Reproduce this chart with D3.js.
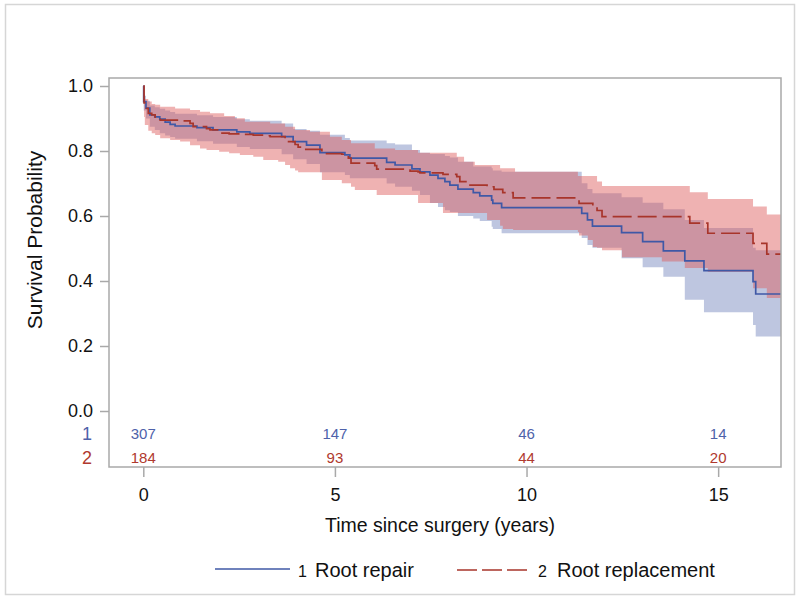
<!DOCTYPE html>
<html>
<head>
<meta charset="utf-8">
<script src="https://cdn.jsdelivr.net/npm/d3@7"></script>
<style>
  html, body { margin: 0; padding: 0; background: #fff; }
  svg { display: block; font-family: Arial, "Liberation Sans", Helvetica, sans-serif; }
</style>
</head>
<body>
<svg id="chart" width="800" height="600"></svg>
<script>
// ---------------- DATA ----------------
const groupLabels = ["Root repair", "Root replacement"];
const groupIds = ["1", "2"];
const xTickValues = [0, 5, 10, 15];
const yTickValues = [0, 0.2, 0.4, 0.6, 0.8, 1.0];
const atRiskTimes = [0, 5, 10, 15];
const atRiskRepair = [307, 147, 46, 14];
const atRiskReplacement = [184, 93, 44, 20];
const endTime = 16.64;

// Group 1: Root repair (time, survival, lower CL, upper CL)
const repairTime  = [0, 0.01, 0.07, 0.17, 0.30, 0.43, 0.57, 0.70, 0.83, 1.40, 1.82, 2.44, 2.78, 3.61, 3.91, 4.26, 4.61, 5.26, 5.39, 6.35, 6.57, 7.01, 7.22, 7.48, 7.69, 7.87, 8.00, 8.21, 8.61, 8.78, 9.09, 9.12, 9.35, 11.44, 11.59, 11.72, 12.48, 13.03, 13.57, 14.13, 14.63, 15.91, 15.98];
const repairSurv  = [1.0, 0.952, 0.932, 0.911, 0.905, 0.898, 0.889, 0.882, 0.877, 0.872, 0.865, 0.859, 0.854, 0.844, 0.829, 0.818, 0.795, 0.788, 0.778, 0.765, 0.757, 0.745, 0.736, 0.726, 0.716, 0.706, 0.695, 0.683, 0.672, 0.662, 0.649, 0.639, 0.626, 0.608, 0.588, 0.569, 0.549, 0.521, 0.493, 0.462, 0.432, 0.398, 0.360];
const repairLower = [1.0, 0.925, 0.900, 0.875, 0.865, 0.855, 0.848, 0.843, 0.838, 0.830, 0.822, 0.812, 0.806, 0.790, 0.775, 0.760, 0.735, 0.726, 0.716, 0.700, 0.690, 0.678, 0.665, 0.640, 0.628, 0.618, 0.612, 0.600, 0.592, 0.585, 0.567, 0.560, 0.547, 0.532, 0.511, 0.502, 0.470, 0.442, 0.413, 0.342, 0.304, 0.265, 0.229];
const repairUpper = [1.0, 0.970, 0.955, 0.940, 0.935, 0.930, 0.925, 0.920, 0.915, 0.910, 0.905, 0.898, 0.893, 0.885, 0.868, 0.862, 0.850, 0.840, 0.832, 0.824, 0.820, 0.803, 0.795, 0.791, 0.791, 0.785, 0.780, 0.767, 0.752, 0.752, 0.747, 0.740, 0.736, 0.701, 0.683, 0.670, 0.658, 0.641, 0.621, 0.588, 0.563, 0.502, 0.495];

// Group 2: Root replacement (time, survival, lower CL, upper CL)
const replTime  = [0, 0.02, 0.04, 0.13, 0.22, 0.31, 0.44, 0.70, 0.83, 0.96, 1.22, 1.30, 1.48, 1.65, 1.74, 1.98, 2.11, 2.24, 2.39, 2.52, 2.65, 2.87, 3.13, 3.31, 3.52, 3.70, 3.74, 3.83, 3.96, 4.04, 4.24, 4.35, 4.66, 4.69, 4.87, 5.18, 5.35, 5.42, 5.52, 6.04, 6.09, 6.57, 6.96, 7.17, 7.22, 7.82, 8.18, 8.26, 8.37, 8.47, 8.65, 8.97, 9.15, 9.31, 9.38, 9.65, 9.70, 11.34, 11.37, 11.60, 11.73, 11.84, 11.97, 12.49, 13.53, 14.13, 14.26, 14.73, 15.91, 16.27];
const replSurv  = [1.0, 0.948, 0.931, 0.916, 0.911, 0.898, 0.895, 0.895, 0.895, 0.893, 0.885, 0.875, 0.875, 0.869, 0.865, 0.855, 0.855, 0.853, 0.853, 0.851, 0.851, 0.849, 0.847, 0.844, 0.844, 0.835, 0.829, 0.829, 0.820, 0.812, 0.805, 0.805, 0.798, 0.792, 0.792, 0.790, 0.778, 0.763, 0.763, 0.755, 0.744, 0.744, 0.738, 0.736, 0.733, 0.728, 0.721, 0.706, 0.706, 0.695, 0.695, 0.690, 0.682, 0.682, 0.672, 0.656, 0.656, 0.650, 0.639, 0.639, 0.630, 0.617, 0.598, 0.598, 0.598, 0.598, 0.578, 0.547, 0.516, 0.483];
const replLower = [1.0, 0.905, 0.880, 0.862, 0.855, 0.849, 0.839, 0.834, 0.834, 0.829, 0.818, 0.818, 0.808, 0.803, 0.803, 0.798, 0.798, 0.793, 0.793, 0.788, 0.788, 0.782, 0.772, 0.772, 0.767, 0.757, 0.757, 0.747, 0.740, 0.735, 0.735, 0.735, 0.711, 0.711, 0.711, 0.701, 0.701, 0.690, 0.680, 0.680, 0.665, 0.665, 0.665, 0.640, 0.640, 0.609, 0.609, 0.609, 0.609, 0.609, 0.609, 0.588, 0.588, 0.570, 0.560, 0.557, 0.557, 0.551, 0.540, 0.526, 0.505, 0.502, 0.495, 0.473, 0.460, 0.440, 0.440, 0.428, 0.378, 0.348];
const replUpper = [1.0, 0.975, 0.960, 0.952, 0.945, 0.942, 0.936, 0.936, 0.931, 0.931, 0.926, 0.926, 0.921, 0.921, 0.916, 0.916, 0.908, 0.908, 0.901, 0.901, 0.890, 0.890, 0.890, 0.885, 0.885, 0.875, 0.875, 0.875, 0.865, 0.865, 0.865, 0.859, 0.859, 0.859, 0.844, 0.834, 0.834, 0.824, 0.824, 0.808, 0.808, 0.803, 0.803, 0.795, 0.795, 0.795, 0.782, 0.782, 0.767, 0.767, 0.757, 0.757, 0.757, 0.747, 0.747, 0.747, 0.736, 0.723, 0.723, 0.723, 0.723, 0.706, 0.692, 0.692, 0.692, 0.692, 0.673, 0.652, 0.629, 0.605];

// ---------------- LAYOUT ----------------
const svg = d3.select("#chart");
const frame = { left: 109, top: 78, right: 781, bottom: 467 };
const x = d3.scaleLinear().domain([-0.895, endTime]).range([frame.left, frame.right]);
const y = d3.scaleLinear().domain([0, 1]).range([411, 86]);

const blue = "#3f58a6";
const red = "#a8352b";
const blueText = "#4e62aa";
const redText = "#b0392e";

// outer border
svg.append("rect").attr("x", 5.5).attr("y", 4.5).attr("width", 789).attr("height", 590)
  .attr("fill", "#fff").attr("stroke", "#d6d6d6").attr("stroke-width", 1.5);

function buildSeries(t, s, lo, hi) {
  const pts = t.map((tt, i) => ({ t: tt, s: s[i], lo: lo[i], hi: hi[i] }));
  const last = pts[pts.length - 1];
  pts.push({ t: endTime, s: last.s, lo: last.lo, hi: last.hi });
  return pts;
}
const repair = buildSeries(repairTime, repairSurv, repairLower, repairUpper);
const repl = buildSeries(replTime, replSurv, replLower, replUpper);

const area = d3.area().curve(d3.curveStepAfter)
  .x(d => x(d.t)).y0(d => y(d.lo)).y1(d => y(d.hi));
const line = d3.line().curve(d3.curveStepAfter)
  .x(d => x(d.t)).y(d => y(d.s));

svg.append("defs").append("clipPath").attr("id", "clip")
  .append("rect").attr("x", frame.left).attr("y", frame.top)
  .attr("width", frame.right - frame.left).attr("height", frame.bottom - frame.top);

const plot = svg.append("g").attr("clip-path", "url(#clip)");
plot.append("path").datum(repair).attr("d", area)
  .attr("fill", "#4a62a8").attr("fill-opacity", 0.36);
plot.append("path").datum(repl).attr("d", area)
  .attr("fill", "#dd5c5c").attr("fill-opacity", 0.47);
plot.append("path").datum(repair).attr("d", line)
  .attr("fill", "none").attr("stroke", blue).attr("stroke-width", 1.7);
plot.append("path").datum(repl).attr("d", line)
  .attr("fill", "none").attr("stroke", red).attr("stroke-width", 1.7)
  .attr("stroke-dasharray", "19,6");

// frame
svg.append("rect").attr("x", frame.left).attr("y", frame.top)
  .attr("width", frame.right - frame.left).attr("height", frame.bottom - frame.top)
  .attr("fill", "none").attr("stroke", "#a9a9a9").attr("stroke-width", 1.5);

// y axis
const yAxis = svg.append("g").attr("transform", `translate(${frame.left},0)`)
  .call(d3.axisLeft(y).tickValues(yTickValues).tickFormat(d3.format(".1f")).tickSize(9).tickPadding(7));
yAxis.select(".domain").remove();
yAxis.selectAll(".tick line").attr("stroke", "#a9a9a9").attr("stroke-width", 1.5);
yAxis.selectAll(".tick text").attr("font-size", 18).attr("fill", "#111")
  .attr("font-family", "Arial, 'Liberation Sans', sans-serif");

// x axis
const xAxis = svg.append("g").attr("transform", `translate(0,${frame.bottom})`)
  .call(d3.axisBottom(x).tickValues(xTickValues).tickFormat(d3.format("d")).tickSize(10).tickPadding(11));
xAxis.select(".domain").remove();
xAxis.selectAll(".tick line").attr("stroke", "#a9a9a9").attr("stroke-width", 1.5);
xAxis.selectAll(".tick text").attr("font-size", 18).attr("fill", "#111")
  .attr("font-family", "Arial, 'Liberation Sans', sans-serif");

// axis titles
svg.append("text").attr("x", 440).attr("y", 532).attr("text-anchor", "middle")
  .attr("font-size", 19.5).attr("fill", "#111").text("Time since surgery (years)");
svg.append("text").attr("transform", "translate(42,240) rotate(-90)")
  .attr("text-anchor", "middle").attr("font-size", 21).attr("fill", "#111")
  .text("Survival Probability");

// at-risk table
const rows = [
  { id: groupIds[0], vals: atRiskRepair, color: blueText, yPos: 439 },
  { id: groupIds[1], vals: atRiskReplacement, color: redText, yPos: 463 }
];
rows.forEach(r => {
  svg.append("text").attr("x", 92).attr("y", r.yPos + 1).attr("text-anchor", "end")
    .attr("font-size", 18).attr("fill", r.color).text(r.id);
  svg.selectAll(null).data(atRiskTimes).enter().append("text")
    .attr("x", d => x(d)).attr("y", r.yPos).attr("text-anchor", "middle")
    .attr("font-size", 15).attr("fill", r.color)
    .text((d, i) => r.vals[i]);
});

// legend
const leg = svg.append("g");
leg.append("line").attr("x1", 215).attr("x2", 290).attr("y1", 569).attr("y2", 569)
  .attr("stroke", blue).attr("stroke-width", 1.7);
leg.append("text").attr("x", 298).attr("y", 577).attr("font-size", 16).attr("fill", "#111").text(groupIds[0]);
leg.append("text").attr("x", 315).attr("y", 577).attr("font-size", 20).attr("fill", "#111").text(groupLabels[0]);
leg.append("line").attr("x1", 457).attr("x2", 527).attr("y1", 570).attr("y2", 570)
  .attr("stroke", red).attr("stroke-width", 1.7).attr("stroke-dasharray", "20,5");
leg.append("text").attr("x", 538).attr("y", 577).attr("font-size", 16).attr("fill", "#111").text(groupIds[1]);
leg.append("text").attr("x", 557).attr("y", 577).attr("font-size", 20).attr("fill", "#111").text(groupLabels[1]);
</script>
</body>
</html>
